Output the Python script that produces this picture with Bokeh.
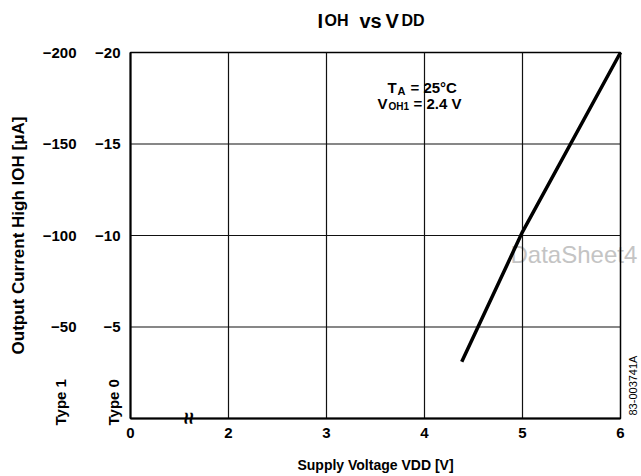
import math
from bokeh.plotting import figure
from bokeh.models import (Range1d, LinearAxis, FixedTicker, Label)
from bokeh.embed import file_html
from bokeh.resources import INLINE

# ---- data ----
vdd = [4.38, 5.0, 6.0]                 # supply voltage (V)
ioh_type0 = [-3.1, -10.2, -20.0]       # Type 0 scale (uA)
x_ticks = [1, 2, 3, 4, 5, 6]           # axis positions (1 shows "0" after break)
x_tick_labels = ["0", "2", "3", "4", "5", "6"]
y0_ticks = [-5, -10, -15, -20]
y0_tick_labels = ["\u22125", "\u221210", "\u221215", "\u221220"]
y1_ticks = [-50, -100, -150, -200]
y1_tick_labels = ["\u221250", "\u2212100", "\u2212150", "\u2212200"]
x_grid = [2, 3, 4, 5]
y_grid = [-5, -10, -15]
break_x = [1.59]

FONT = "Liberation Sans"

# ---- layout (pixels) ----
W, H = 641, 476
FL, FR, FT, FB = 130, 620, 52, 418      # plot box edges on canvas
X0, X1 = 1.0, 6.0
Y0, Y1 = 0.0, -20.0
kx = (FR - FL) / (X1 - X0)
ky = (FB - FT) / (Y0 - Y1)
x_range = Range1d(X0 - FL / kx, X1 + (W - FR) / kx)
y_range = Range1d(Y0 + (H - FB) / ky, Y1 - FT / ky)

p = figure(width=W, height=H, output_backend="svg", toolbar_location=None,
           x_range=x_range, y_range=y_range, min_border=0)
p.background_fill_color = "white"
p.border_fill_color = "white"
p.outline_line_color = None
p.grid.visible = False

# x axis
xa = p.xaxis[0]
xa.ticker = FixedTicker(ticks=x_ticks)
xa.major_label_overrides = {t: l for t, l in zip(x_ticks, x_tick_labels)}
xa.axis_label = "Supply Voltage VDD [V]"
xa.fixed_location = Y0
xa.bounds = (X0, X1)

# inner y axis (Type 0)
ya = p.yaxis[0]
ya.ticker = FixedTicker(ticks=y0_ticks)
ya.major_label_overrides = {t: l for t, l in zip(y0_ticks, y0_tick_labels)}
ya.fixed_location = X0
ya.bounds = (Y1, Y0)

# outer y axis (Type 1)
p.extra_y_ranges = {"t1": Range1d(y_range.start * 10, y_range.end * 10)}
ya1 = LinearAxis(y_range_name="t1", ticker=FixedTicker(ticks=y1_ticks))
ya1.major_label_overrides = {t: l for t, l in zip(y1_ticks, y1_tick_labels)}
ya1.axis_label = "Output Current High IOH [\u03bcA]"
ya1.fixed_location = X0
ya1.bounds = (Y1 * 10, Y0 * 10)
p.add_layout(ya1, "left")

for ax in (xa, ya, ya1):
    ax.major_tick_line_color = None
    ax.minor_tick_line_color = None
    ax.major_tick_out = 0
    ax.major_tick_in = 0
    ax.major_label_text_font = FONT
    ax.major_label_text_font_style = "bold"
    ax.major_label_text_font_size = "15px"
    ax.major_label_text_color = "black"
    ax.axis_label_text_font = FONT
    ax.axis_label_text_font_style = "bold"
    ax.axis_label_text_color = "black"
xa.axis_line_width = 2
xa.major_label_standoff = 9
xa.axis_label_standoff = 16
xa.axis_label_text_font_size = "14px"
ya.axis_line_width = 2
ya.major_label_standoff = 10
ya1.axis_line_color = None
ya1.major_label_standoff = 54
ya1.axis_label_standoff = 12
ya1.axis_label_text_font_size = "17px"

# plot box and grid
p.quad(left=[X0], right=[X1], bottom=[Y0], top=[Y1], fill_color=None,
       line_color="black", line_width=1.5)
p.segment(x0=x_grid, x1=x_grid, y0=[Y0] * len(x_grid), y1=[Y1] * len(x_grid),
          line_color="#111111", line_width=1.2)
p.segment(x0=[X0] * len(y_grid), x1=[X1] * len(y_grid), y0=y_grid, y1=y_grid,
          line_color="#111111", line_width=1.2)

# curve
p.line(vdd, ioh_type0, line_color="black", line_width=3.5)


def lab(text, xo, yo, size, x=X0, y=Y1, **kw):
    l = Label(x=x, y=y, x_offset=xo, y_offset=yo, text=text,
              text_font=kw.pop("font", FONT),
              text_font_style=kw.pop("style", "bold"),
              text_font_size=f"{size}px", text_color=kw.pop("color", "black"),
              text_baseline=kw.pop("baseline", "alphabetic"),
              text_align=kw.pop("align", "left"), **kw)
    p.add_layout(l)
    return l

# title  I_OH vs V_DD
lab("I", 187, 32, 20)
lab("OH", 194, 32, 16)
lab("vs", 229, 32, 20)
lab("V", 255, 32, 20)
lab("DD", 271, 32, 16)

# annotation
lab("T", 257, -35, 15)
lab("A", 267, -38, 11)
lab("= 25\u00b0C", 280, -35, 15)
lab("V", 247, -51, 15)
lab("OH1", 258, -54, 10)
lab("= 2.4 V", 283, -51, 15)

# Type labels
lab("Type 1", -70, -7, 15, y=Y0, angle=math.pi / 2, baseline="middle")
lab("Type 0", -17, -7, 15, y=Y0, angle=math.pi / 2, baseline="middle")

# axis break mark
lab("\u2248", 0, 0, 22, x=break_x[0], y=Y0, angle=math.pi / 2,
    baseline="middle", align="center")

# watermark and figure number
lab("DataSheet4", 380, -202, 24, style="normal", color="#c4c4c4",
    level="underlay")
lab("83-003741A", 12, 3, 11, x=X1, y=Y0, style="normal", angle=math.pi / 2,
    baseline="middle")

open("out.html", "w").write(file_html(p, INLINE))
